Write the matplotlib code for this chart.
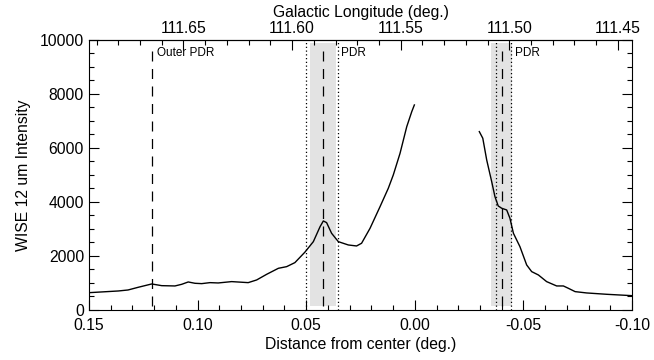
import numpy as np
import matplotlib
matplotlib.use('Agg')
import matplotlib.pyplot as plt
from matplotlib.ticker import MultipleLocator

plt.rcParams['font.family'] = ['Liberation Sans', 'DejaVu Sans']

# intensity profile, inner side (distance > 0)
d_left = [0.150, 0.1365, 0.132, 0.1273, 0.1211, 0.1165, 0.1104, 0.1073, 0.1043,
          0.1012, 0.0981, 0.0943, 0.0905, 0.0843, 0.0767, 0.0728, 0.0682, 0.0628,
          0.059, 0.0552, 0.0506, 0.0467, 0.0436, 0.0421, 0.0406, 0.0383, 0.0352,
          0.0306, 0.0268, 0.0245, 0.0206, 0.016, 0.0122, 0.0099, 0.0068, 0.0037,
          0.0014, 0.0002]
i_left = [640, 703, 740, 840, 963, 900, 889, 950, 1037,
          988, 975, 1012, 1000, 1050, 1012, 1111, 1320, 1543,
          1604, 1753, 2140, 2530, 3086, 3296, 3235, 2840, 2530,
          2407, 2370, 2470, 3025, 3826, 4506, 5000, 5800, 6790,
          7344, 7593]

# other side (distance < 0)
d_right = [-0.0297, -0.0313, -0.0331, -0.0354, -0.0369, -0.0384, -0.040, -0.0423,
           -0.0438, -0.0454, -0.0484, -0.0515, -0.0538, -0.0569, -0.0607, -0.0653,
           -0.0684, -0.0707, -0.0738, -0.0791, -0.0884, -0.0999]
i_right = [6605, 6360, 5556, 4752, 4197, 3852, 3767, 3704,
           3396, 2840, 2345, 1667, 1420, 1296, 1049, 889,
           889, 802, 679, 630, 580, 530]

# PDR positions (deg.)
outer_pdr = 0.121
pdr_centers = [0.0423, -0.0401]
pdr_bands = [(0.0363, 0.0483), (-0.0448, -0.0351)]
pdr_dotted = [(0.0354, 0.050), (-0.0445, -0.0374)]
lon0 = 111.5435

fig = plt.figure(figsize=(6.54, 3.6), dpi=100)
ax = fig.add_axes([0.136, 0.139, 0.8304, 0.75])

for lo, hi in pdr_bands:
    ax.fill_between([lo, hi], 150, 9880, color='#e3e3e3', lw=0, zorder=0)
for pair in pdr_dotted:
    for x in pair:
        ax.axvline(x, color='k', lw=0.9, ls=(0, (1, 2)), zorder=1)
for x in [outer_pdr] + pdr_centers:
    ax.plot([x, x], [150, 9700], color='k', lw=0.9, ls=(0, (8, 6)), zorder=1)

ax.plot(d_left, i_left, color='k', lw=1.0, zorder=3)
ax.plot(d_right, i_right, color='k', lw=1.0, zorder=3)

ax.text(outer_pdr - 0.0025, 9500, 'Outer PDR', fontsize=8.5, va='center', ha='left')
ax.text(pdr_dotted[0][0] - 0.0015, 9500, 'PDR', fontsize=8.5, va='center', ha='left')
ax.text(pdr_dotted[1][0] - 0.0015, 9500, 'PDR', fontsize=8.5, va='center', ha='left')

ax.set_xlim(0.15, -0.10)
ax.set_ylim(0, 10000)
ax.xaxis.set_major_locator(MultipleLocator(0.05))
ax.xaxis.set_minor_locator(MultipleLocator(0.01))
ax.yaxis.set_major_locator(MultipleLocator(2000))
ax.yaxis.set_minor_locator(MultipleLocator(500))
ax.xaxis.set_major_formatter(plt.FuncFormatter(lambda v, p: '%.2f' % v if abs(v) > 1e-9 else '0.00'))
ax.tick_params(which='both', direction='in', top=False, right=True, labelsize=11.3, width=0.8)
ax.tick_params(which='major', length=7)
ax.tick_params(which='minor', length=3.5)
ax.tick_params(axis='x', pad=6)
ax.set_xlabel('Distance from center (deg.)', fontsize=11.3, labelpad=3)
ax.set_ylabel('WISE 12 um Intensity', fontsize=11.3, labelpad=6)
for s in ax.spines.values():
    s.set_linewidth(0.8)

top = ax.secondary_xaxis('top', functions=(lambda d: d + lon0, lambda l: l - lon0))
top.xaxis.set_major_locator(MultipleLocator(0.05))
top.xaxis.set_minor_locator(MultipleLocator(0.01))
top.xaxis.set_major_formatter(plt.FuncFormatter(lambda v, p: '%.2f' % v))
top.tick_params(which='both', direction='in', labelsize=11.3, width=0.8, pad=3)
top.tick_params(which='major', length=7)
top.tick_params(which='minor', length=3.5)
top.set_xlabel('Galactic Longitude (deg.)', fontsize=11.3, labelpad=3)
top.spines['top'].set_linewidth(0.8)

fig.savefig('out.png', dpi=100)
